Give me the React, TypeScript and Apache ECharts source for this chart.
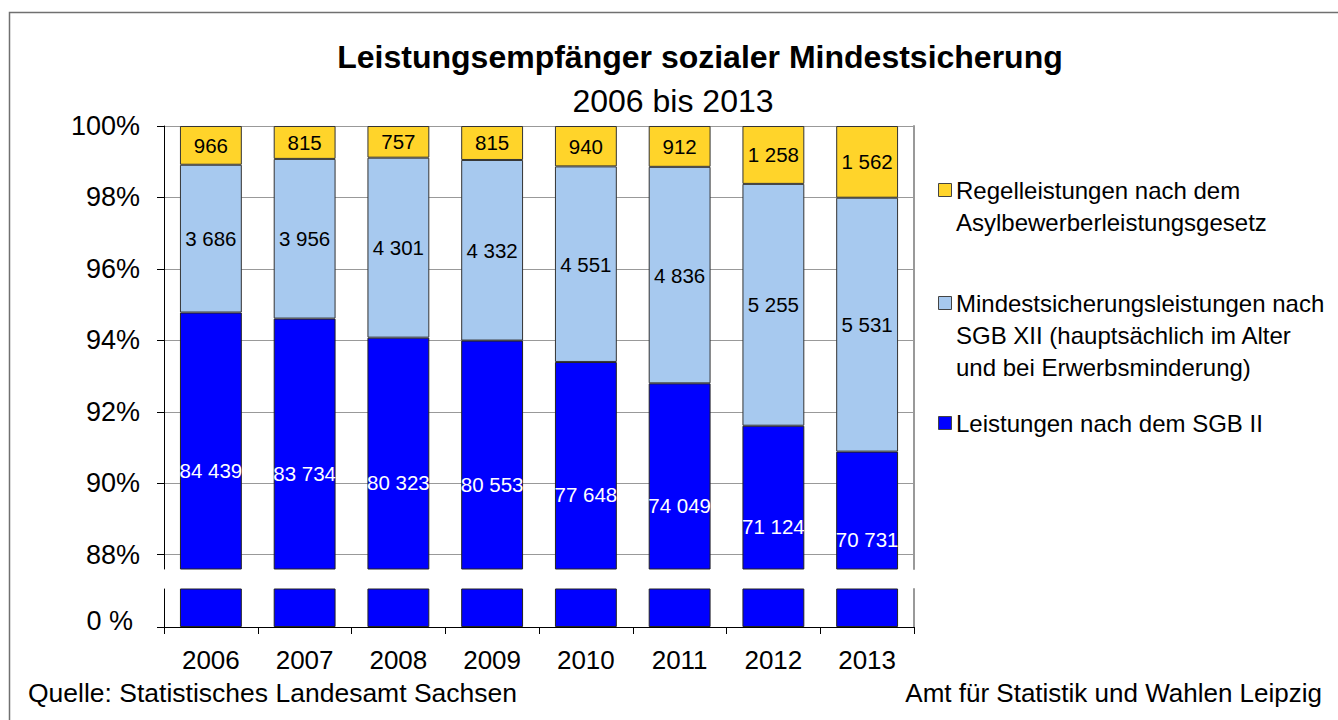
import React, { useEffect, useRef } from "react";
import * as echarts from "echarts";

const years = ["2006", "2007", "2008", "2009", "2010", "2011", "2012", "2013"];
const asyl = [966, 815, 757, 815, 940, 912, 1258, 1562];
const sgb12 = [3686, 3956, 4301, 4332, 4551, 4836, 5255, 5531];
const sgb2 = [84439, 83734, 80323, 80553, 77648, 74049, 71124, 70731];
const yTicks = [88, 90, 92, 94, 96, 98, 100];

const legendItems = [
  { name: "Regelleistungen nach dem\nAsylbewerberleistungsgesetz", color: "#FFD42A", y: 190 },
  { name: "Mindestsicherungsleistungen nach\nSGB XII (hauptsächlich im Alter\nund bei Erwerbsminderung)", color: "#A7C9EF", y: 303 },
  { name: "Leistungen nach dem SGB II", color: "#0000FF", y: 423 },
];

const FONT = "'Liberation Sans', Arial, sans-serif";
const fmt = (n: number) => n.toString().replace(/\B(?=(\d{3})+(?!\d))/g, " ");

export default function App() {
  const ref = useRef<HTMLDivElement>(null);
  useEffect(() => {
    if (!ref.current) return;
    const chart = echarts.init(ref.current, null, { renderer: "svg" });
    const totals = years.map((_, i) => sgb2[i] + sgb12[i] + asyl[i]);
    const p2 = sgb2.map((v, i) => (v / totals[i]) * 100);
    const p12 = sgb12.map((v, i) => (v / totals[i]) * 100);
    const pA = asyl.map((v, i) => (v / totals[i]) * 100);

    const barBase = {
      type: "bar",
      barWidth: "66%",
      stack: "a",
      itemStyle: { borderColor: "#333", borderWidth: 1 },
    };

    const graphics: any[] = [
      {
        type: "rect",
        shape: { x: 9.5, y: 12.5, width: 1340, height: 720 },
        style: { fill: "none", stroke: "#707070", lineWidth: 1.5 },
        silent: true,
      },
      {
        type: "text",
        x: 700,
        y: 57,
        style: {
          text: "Leistungsempfänger sozialer Mindestsicherung",
          font: `bold 32px ${FONT}`,
          fill: "#000",
          align: "center",
          verticalAlign: "middle",
        },
      },
      {
        type: "text",
        x: 673,
        y: 101,
        style: {
          text: "2006 bis 2013",
          font: `32px ${FONT}`,
          fill: "#000",
          align: "center",
          verticalAlign: "middle",
        },
      },
      {
        type: "text",
        x: 28,
        y: 693,
        style: {
          text: "Quelle: Statistisches Landesamt Sachsen",
          font: `26.5px ${FONT}`,
          fill: "#000",
          align: "left",
          verticalAlign: "middle",
        },
      },
      {
        type: "text",
        x: 1322,
        y: 693,
        style: {
          text: "Amt für Statistik und Wahlen Leipzig",
          font: `26px ${FONT}`,
          fill: "#000",
          align: "right",
          verticalAlign: "middle",
        },
      },
    ];
    legendItems.forEach((it) => {
      graphics.push({
        type: "rect",
        shape: { x: 938.5, y: it.y - 6.5, width: 13, height: 13 },
        style: { fill: it.color, stroke: "#444", lineWidth: 1 },
      });
      graphics.push({
        type: "text",
        x: 956,
        y: it.y - 16,
        style: {
          text: it.name,
          font: `24px ${FONT}`,
          lineHeight: 32,
          fill: "#000",
          align: "left",
          verticalAlign: "top",
        },
      });
    });

    chart.setOption({
      animation: false,
      backgroundColor: "#fff",
      grid: [
        { left: 164, top: 126, width: 750, height: 443 },
        { left: 164, top: 589, width: 750, height: 38 },
      ],
      xAxis: [
        {
          type: "category",
          gridIndex: 0,
          data: years,
          axisLine: { show: false },
          axisTick: { show: false },
          axisLabel: { show: false },
        },
        {
          type: "category",
          gridIndex: 1,
          data: years,
          axisLine: { show: true, lineStyle: { color: "#000", width: 1 } },
          axisTick: { show: true, length: 7, lineStyle: { color: "#000" } },
          axisLabel: { fontSize: 26, color: "#000", fontFamily: FONT, margin: 20 },
        },
      ],
      yAxis: [
        {
          type: "value",
          gridIndex: 0,
          min: 87.6,
          max: 100,
          axisLine: { show: true, lineStyle: { color: "#000", width: 1 } },
          axisTick: { show: true, length: 7, customValues: yTicks, lineStyle: { color: "#000" } },
          axisLabel: {
            customValues: yTicks,
            formatter: (v: number) => `${v}%`,
            fontSize: 27,
            color: "#000",
            fontFamily: FONT,
            margin: 24,
          },
          splitLine: { show: true, lineStyle: { color: "#999", width: 1 } },
        },
        {
          type: "value",
          gridIndex: 0,
          position: "right",
          min: 87.6,
          max: 100,
          axisLine: { show: true, lineStyle: { color: "#999", width: 2 } },
          axisTick: { show: false },
          axisLabel: { show: false },
          splitLine: { show: false },
        },
        {
          type: "value",
          gridIndex: 1,
          min: 0,
          max: 1,
          axisLine: { show: true, lineStyle: { color: "#000", width: 1 } },
          axisTick: { show: true, length: 7, customValues: [0], lineStyle: { color: "#000" } },
          axisLabel: {
            customValues: [0],
            formatter: () => "0 %\n ",
            fontSize: 27,
            lineHeight: 12,
            color: "#000",
            fontFamily: FONT,
            margin: 31,
          },
          splitLine: { show: false },
        },
        {
          type: "value",
          gridIndex: 1,
          position: "right",
          min: 0,
          max: 1,
          axisLine: { show: true, lineStyle: { color: "#999", width: 2 } },
          axisTick: { show: false },
          axisLabel: { show: false },
          splitLine: { show: false },
        },
      ],
      graphic: graphics,
      series: [
        {
          ...barBase,
          name: "Leistungen nach dem SGB II",
          xAxisIndex: 0,
          yAxisIndex: 0,
          data: p2,
          itemStyle: { color: "#0000FF", borderColor: "#222", borderWidth: 1 },
          label: {
            show: true,
            position: "inside",
            offset: [0, 29],
            color: "#fff",
            fontSize: 20.5,
            fontFamily: FONT,
            formatter: (p: any) => fmt(sgb2[p.dataIndex]),
          },
        },
        {
          ...barBase,
          name: "Mindestsicherungsleistungen nach SGB XII",
          xAxisIndex: 0,
          yAxisIndex: 0,
          data: p12,
          itemStyle: { color: "#A7C9EF", borderColor: "#333", borderWidth: 1 },
          label: {
            show: true,
            position: "inside",
            color: "#000",
            fontSize: 20.5,
            fontFamily: FONT,
            formatter: (p: any) => fmt(sgb12[p.dataIndex]),
          },
        },
        {
          ...barBase,
          name: "Regelleistungen nach dem Asylbewerberleistungsgesetz",
          xAxisIndex: 0,
          yAxisIndex: 0,
          data: pA,
          itemStyle: { color: "#FFD42A", borderColor: "#333", borderWidth: 1 },
          label: {
            show: true,
            position: "inside",
            color: "#000",
            fontSize: 20.5,
            fontFamily: FONT,
            formatter: (p: any) => fmt(asyl[p.dataIndex]),
          },
        },
        {
          type: "bar",
          name: "SGB II (unten)",
          xAxisIndex: 1,
          yAxisIndex: 2,
          barWidth: "66%",
          data: p2,
          itemStyle: { color: "#0000FF", borderColor: "#222", borderWidth: 1 },
        },
      ],
    });
    return () => chart.dispose();
  }, []);
  return (
    <div
      ref={ref}
      style={{ position: "fixed", left: 0, top: 0, width: 1338, height: 720 }}
    />
  );
}
